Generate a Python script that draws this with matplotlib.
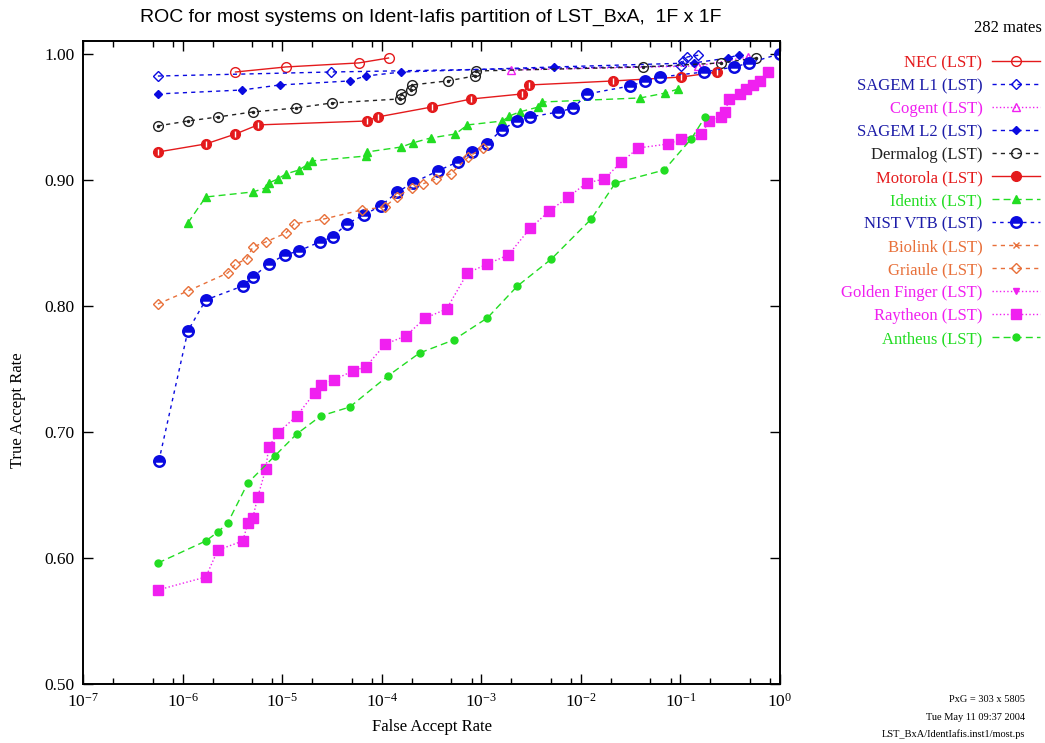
import matplotlib
matplotlib.use("Agg")
import matplotlib.pyplot as plt
from matplotlib.ticker import LogLocator, FixedLocator, FormatStrFormatter, NullFormatter

plt.rcParams['font.family'] = ['Liberation Serif', 'DejaVu Serif']
plt.rcParams['mathtext.fontset'] = 'custom'
plt.rcParams['mathtext.rm'] = 'Liberation Serif'

# ---- data (FAR, TAR) ----
nec_far = [3.4e-6, 1.09e-5, 5.9e-5, 1.17e-4]
nec_tar = [0.9857, 0.9897, 0.9929, 0.9968]

sagem1_far = [5.65e-7, 3.1e-5, 0.102, 0.107, 0.117, 0.151]
sagem1_tar = [0.9825, 0.9857, 0.9905, 0.9944, 0.9976, 0.9990]

cogent_far = [2.0e-3, 0.151, 0.479]
cogent_tar = [0.9873, 0.9905, 0.9976]

sagem2_far = [5.65e-7, 3.94e-6, 9.46e-6, 4.77e-5, 6.9e-5, 1.58e-4, 5.42e-3, 0.137, 0.301, 0.389]
sagem2_tar = [0.9683, 0.9714, 0.9754, 0.9786, 0.9825, 0.9857, 0.9897, 0.9929, 0.9968, 0.9995]

derma_far = [5.65e-7, 1.13e-6, 2.26e-6, 5.07e-6, 1.37e-5, 3.14e-5, 1.51e-4, 1.55e-4,
             1.95e-4, 2.0e-4, 4.58e-4, 8.55e-4, 8.95e-4, 0.0424, 0.257, 0.575]
derma_tar = [0.9429, 0.9468, 0.9500, 0.9540, 0.9571, 0.9611, 0.9643, 0.9683,
             0.9714, 0.9754, 0.9786, 0.9825, 0.9865, 0.9897, 0.9929, 0.9968]

moto_far = [5.65e-7, 1.71e-6, 3.4e-6, 5.7e-6, 7.06e-5, 9.1e-5, 3.17e-4, 7.97e-4,
            2.59e-3, 3.04e-3, 0.0212, 0.102, 0.234]
moto_tar = [0.9222, 0.9286, 0.9365, 0.9437, 0.9468, 0.9500, 0.9579, 0.9643,
            0.9683, 0.9754, 0.9786, 0.9817, 0.9857]

identix_far = [1.13e-6, 1.71e-6, 5.07e-6, 6.84e-6, 7.34e-6, 9.04e-6, 1.09e-5, 1.47e-5,
               1.77e-5, 1.98e-5, 6.9e-5, 7.06e-5, 1.58e-4, 2.04e-4, 3.09e-4, 5.5e-4,
               7.27e-4, 1.63e-3, 1.92e-3, 2.42e-3, 3.75e-3, 4.11e-3, 0.0395, 0.0704, 0.095]
identix_tar = [0.8659, 0.8865, 0.8905, 0.8937, 0.8976, 0.9008, 0.9048, 0.9079,
               0.9119, 0.9151, 0.9190, 0.9222, 0.9262, 0.9294, 0.9333, 0.9365,
               0.9437, 0.9468, 0.9508, 0.9540, 0.9579, 0.9619, 0.9651, 0.9690, 0.9722]

nist_far = [5.78e-7, 1.13e-6, 1.71e-6, 4.03e-6, 5.07e-6, 7.34e-6, 1.06e-5, 1.47e-5,
            2.38e-5, 3.22e-5, 4.45e-5, 6.58e-5, 9.75e-5, 1.44e-4, 2.04e-4, 3.64e-4,
            5.77e-4, 8.16e-4, 1.13e-3, 1.6e-3, 2.26e-3, 3.11e-3, 5.94e-3, 8.4e-3,
            0.0116, 0.0313, 0.0443, 0.0627, 0.173, 0.347, 0.490, 0.99]
nist_tar = [0.6770, 0.7802, 0.8048, 0.8159, 0.8230, 0.8333, 0.8405, 0.8437,
            0.8508, 0.8548, 0.8651, 0.8722, 0.8794, 0.8905, 0.8976, 0.9071,
            0.9143, 0.9222, 0.9286, 0.9397, 0.9468, 0.9500, 0.9540, 0.9571,
            0.9683, 0.9746, 0.9786, 0.9817, 0.9857, 0.9897, 0.9929, 1.0000]

biolink_far = []
biolink_tar = []

griaule_far = [5.65e-7, 1.13e-6, 2.84e-6, 3.4e-6, 4.41e-6, 5.07e-6, 6.84e-6, 1.09e-5,
               1.31e-5, 2.61e-5, 6.28e-5, 1.07e-4, 1.41e-4, 2.0e-4, 2.57e-4, 3.47e-4,
               4.91e-4, 7.44e-4, 1.03e-3]
griaule_tar = [0.8016, 0.8119, 0.8262, 0.8333, 0.8373, 0.8468, 0.8508, 0.8579,
               0.8651, 0.8690, 0.8762, 0.8786, 0.8865, 0.8937, 0.8968, 0.9008,
               0.9048, 0.9183, 0.9254]

golden_far = []
golden_tar = []

raytheon_far = [5.65e-7, 1.71e-6, 2.26e-6, 4.03e-6, 4.52e-6, 5.07e-6, 5.69e-6, 6.84e-6,
                7.34e-6, 9.04e-6, 1.40e-5, 2.12e-5, 2.44e-5, 3.3e-5, 5.11e-5, 6.9e-5,
                1.09e-4, 1.74e-4, 2.75e-4, 4.48e-4, 7.27e-4, 1.15e-3, 1.87e-3, 3.11e-3,
                4.83e-3, 7.5e-3, 0.0114, 0.0172, 0.0255, 0.0378, 0.0755, 0.102,
                0.162, 0.195, 0.257, 0.281, 0.308, 0.398, 0.457, 0.537, 0.631, 0.760]
raytheon_tar = [0.5746, 0.5849, 0.6063, 0.6135, 0.6278, 0.6317, 0.6484, 0.6706,
                0.6881, 0.6992, 0.7127, 0.7310, 0.7373, 0.7413, 0.7484, 0.7516,
                0.7698, 0.7762, 0.7905, 0.7976, 0.8262, 0.8333, 0.8405, 0.8619,
                0.8754, 0.8865, 0.8976, 0.9008, 0.9143, 0.9254, 0.9286, 0.9325,
                0.9365, 0.9468, 0.9500, 0.9540, 0.9643, 0.9683, 0.9722, 0.9754, 0.9786, 0.9857]

antheus_far = [5.65e-7, 1.71e-6, 2.26e-6, 2.84e-6, 4.52e-6, 8.43e-6, 1.40e-5, 2.44e-5,
               4.77e-5, 1.15e-4, 2.4e-4, 5.26e-4, 1.15e-3, 2.31e-3, 5.06e-3, 0.0127,
               0.0222, 0.0687, 0.128, 0.177]
antheus_tar = [0.5960, 0.6135, 0.6206, 0.6278, 0.6595, 0.6810, 0.6984, 0.7127,
               0.7198, 0.7444, 0.7627, 0.7730, 0.7905, 0.8159, 0.8373, 0.8690,
               0.8976, 0.9079, 0.9325, 0.9500]

names = ['NEC (LST)', 'SAGEM L1 (LST)', 'Cogent (LST)', 'SAGEM L2 (LST)', 'Dermalog (LST)',
         'Motorola (LST)', 'Identix (LST)', 'NIST VTB (LST)', 'Biolink (LST)', 'Griaule (LST)',
         'Golden Finger (LST)', 'Raytheon (LST)', 'Antheus (LST)']

RED = '#e41a1c'
BLUE = '#0a0ae0'
MAG = '#f020f0'
GREEN = '#22dd22'
ORANGE = '#e8703a'
BLACK = '#222222'

series = [
    (nec_far, nec_tar, dict(color=RED, ls='-', marker='o', mfc='none', ms=7)),
    (sagem1_far, sagem1_tar, dict(color=BLUE, ls=(0, (3, 3)), marker='D', mfc='none', ms=5)),
    (cogent_far, cogent_tar, dict(color=MAG, ls=':', marker='^', mfc='none', ms=6)),
    (sagem2_far, sagem2_tar, dict(color=BLUE, ls=(0, (3, 3)), marker='D', ms=4.5)),
    (derma_far, derma_tar, dict(color=BLACK, ls=(0, (3, 3)), marker='o', mfc='none', ms=7)),
    (moto_far, moto_tar, dict(color=RED, ls='-', marker='o', ms=7)),
    (identix_far, identix_tar, dict(color=GREEN, ls=(0, (5, 3)), marker='^', ms=6)),
    (nist_far, nist_tar, dict(color=BLUE, ls=(0, (2.5, 3)), marker='o', ms=7.5,
                              fillstyle='top', markerfacecoloralt='white', mew=1.8)),
    (biolink_far, biolink_tar, dict(color=ORANGE, ls=(0, (3, 3)), marker='x', ms=5)),
    (griaule_far, griaule_tar, dict(color=ORANGE, ls=(0, (3, 3)), marker='D', mfc='none', ms=5)),
    (golden_far, golden_tar, dict(color=MAG, ls=':', marker='v', ms=5)),
    (raytheon_far, raytheon_tar, dict(color=MAG, ls=':', marker='s', ms=6.5)),
    (antheus_far, antheus_tar, dict(color=GREEN, ls=(0, (5, 3)), marker='o', ms=5)),
]
text_colors = [RED, '#1c1ca8', MAG, '#1c1ca8', BLACK, RED, GREEN, '#1c1ca8',
               ORANGE, ORANGE, MAG, MAG, GREEN]

fig = plt.figure(figsize=(10.45, 7.43), dpi=100)
ax = fig.add_axes([83 / 1045, 1 - 684 / 743, (780 - 83) / 1045, (684 - 41) / 743])

for (fx, ty, st), name in zip(series, names):
    ax.plot(fx, ty, lw=1.0, label=name, **st)

# little details inside markers
ax.plot(derma_far, derma_tar, ls='none', marker='.', ms=3, color=BLACK)
ax.plot(moto_far, moto_tar, ls='none', marker='|', ms=4, mew=1, color='white')

ax.set_xscale('log')
ax.set_xlim(1e-7, 1.0)
ax.set_ylim(0.5, 1.0103)
ax.xaxis.set_major_locator(FixedLocator([1e-7, 1e-6, 1e-5, 1e-4, 1e-3, 1e-2, 1e-1, 1.0]))
ax.xaxis.set_minor_locator(LogLocator(base=10, subs=[2, 5, 8], numticks=20))
ax.xaxis.set_minor_formatter(NullFormatter())
ax.xaxis.set_major_formatter(plt.FuncFormatter(lambda v, p: r'$\mathdefault{10^{%d}}$' % round(__import__('math').log10(v))))
ax.yaxis.set_major_locator(FixedLocator([0.5, 0.6, 0.7, 0.8, 0.9, 1.0]))
ax.yaxis.set_major_formatter(FormatStrFormatter('%.2f'))
ax.tick_params(which='both', direction='in', top=True, right=True, labelsize=12.5, colors='black')
ax.tick_params(which='major', length=7, width=1, pad=6)
ax.tick_params(which='minor', length=4, width=1)
for sp in ax.spines.values():
    sp.set_linewidth(1.4)

ax.set_xlabel('False Accept Rate', fontsize=12, labelpad=6)
fig.text(18 / 1045, 1 - 410 / 743, 'True Accept Rate', rotation=90, ha='center', va='center', fontsize=12)

fig.text(431 / 1045, 1 - 17 / 743, 'ROC for most systems on Ident-Iafis partition of LST_BxA,  1F x 1F',
         ha='center', va='center', family=['Liberation Sans', 'DejaVu Sans'], fontsize=14)
fig.text(1042 / 1045, 1 - 28 / 743, '282 mates', ha='right', va='center', fontsize=12)

leg = ax.legend(loc='upper right', bbox_to_anchor=(1040 / 1045, 1 - 55 / 743),
                bbox_transform=fig.transFigure, frameon=False, markerfirst=False,
                fontsize=12, labelspacing=0.42, handlelength=2.9, handletextpad=0.55,
                borderpad=0, borderaxespad=0, labelcolor=text_colors)

fig.text(1025 / 1045, 1 - 700 / 743, 'PxG = 303 x 5805', ha='right', va='center', fontsize=7.5)
fig.text(1025 / 1045, 1 - 717 / 743, 'Tue May 11 09:37 2004', ha='right', va='center', fontsize=7.5)
fig.text(1025 / 1045, 1 - 734 / 743, 'LST_BxA/IdentIafis.inst1/most.ps', ha='right', va='center', fontsize=7.5)

fig.savefig('out.png', dpi=100)
